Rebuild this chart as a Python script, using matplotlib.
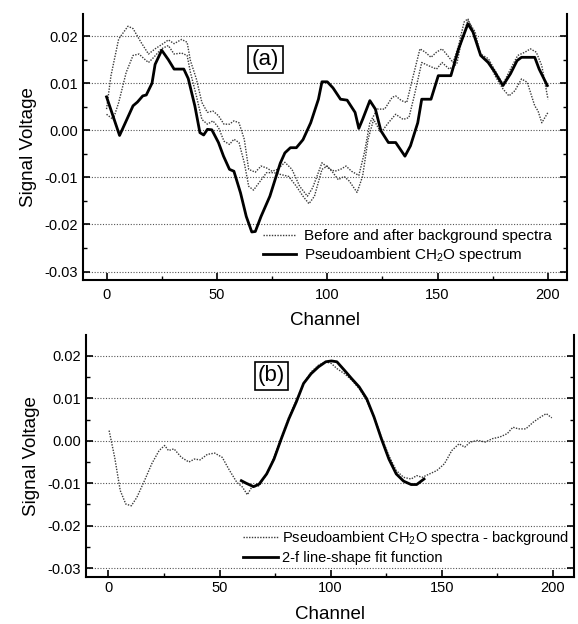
import numpy as np
import matplotlib
matplotlib.use('Agg')
import matplotlib.pyplot as plt
from matplotlib.ticker import MultipleLocator

plt.rcParams['font.family'] = ['Liberation Sans', 'DejaVu Sans']
plt.rcParams['mathtext.fontset'] = 'custom'
plt.rcParams['mathtext.rm'] = 'Liberation Sans'
plt.rcParams['mathtext.it'] = 'Liberation Sans:italic'

# ---- panel (a) data ----
a_solid_x = [0, 5.9, 12, 14, 16.4, 18, 20.6, 22, 25, 28, 30.6, 35, 37, 40, 42.3, 44, 45.7, 47.7,
             50.7, 53, 55.7, 57.7, 60.7, 63.3, 65.8, 67.4, 70, 74, 78.7, 80.8, 83.3, 86, 89, 92.5,
             96, 97.6, 100, 102.6, 106, 109, 112.6, 114.3, 116, 119.3, 121.8, 124.3, 127.7, 131,
             135.2, 137.7, 141, 142.8, 147, 150.3, 156, 159.5, 163.7, 166, 169.5, 172.9, 176,
             179.6, 183, 186, 188, 194, 196, 199.7]
a_solid_y = [0.0071, -0.0011, 0.0052, 0.006, 0.0073, 0.0075, 0.010, 0.014, 0.017, 0.015, 0.013,
             0.013, 0.011, 0.0052, -0.0005, -0.001, 0.0002, 0.0001, -0.0026, -0.0055, -0.0083,
             -0.0087, -0.0133, -0.0183, -0.0216, -0.0215, -0.0183, -0.014, -0.007, -0.0048,
             -0.0037, -0.0037, -0.002, 0.0016, 0.0066, 0.0103, 0.0103, 0.009, 0.0066, 0.0064,
             0.0038, 0.0004, 0.0023, 0.0063, 0.0045, -0.0001, -0.0026, -0.0026, -0.0055, -0.0033,
             0.0016, 0.0066, 0.0066, 0.0116, 0.0116, 0.0173, 0.0226, 0.0209, 0.0159, 0.0144,
             0.0123, 0.0095, 0.012, 0.0148, 0.0155, 0.0155, 0.013, 0.0095]

a_dot1_x = [0, 2, 5.5, 9.7, 12, 15.6, 19, 22, 25.6, 28, 30.6, 34, 36.5, 38, 40.7, 43.2, 45.7,
            48.2, 50.7, 53.2, 55.7, 57.7, 60, 62.4, 64.4, 67.4, 70, 72.5, 75, 77.5, 80.8, 84,
            87.5, 91, 93.4, 97.6, 101, 103.4, 106, 108.5, 111, 114.3, 116.8, 119.3, 122.7, 126,
            129.4, 131, 133.6, 136, 138.6, 142, 144.4, 147, 149.5, 152, 154.5, 157, 159.5, 162,
            163.7, 166, 169.5, 173, 176, 179.6, 183, 186.3, 189.6, 192, 194.7, 197.2, 200]
a_dot1_y = [0.0045, 0.0116, 0.0194, 0.0221, 0.0216, 0.0187, 0.0162, 0.0173, 0.0184, 0.0192,
            0.0184, 0.0193, 0.0187, 0.0148, 0.0109, 0.0059, 0.0038, 0.0041, 0.0031, 0.0013,
            0.0013, 0.002, 0.0016, -0.0019, -0.0083, -0.0089, -0.0076, -0.008, -0.0087, -0.0083,
            -0.0068, -0.0083, -0.0119, -0.014, -0.0122, -0.0069, -0.0082, -0.0087, -0.0083,
            -0.0076, -0.0087, -0.0096, -0.0048, 0.0016, 0.0045, 0.0045, 0.007, 0.0073, 0.0063,
            0.0059, 0.0109, 0.0173, 0.0166, 0.0155, 0.0166, 0.0173, 0.0159, 0.0144, 0.018, 0.023,
            0.0237, 0.0212, 0.0162, 0.0152, 0.0127, 0.0098, 0.013, 0.0159, 0.0166, 0.0173,
            0.0166, 0.0137, 0.0066]

a_dot2_x = [0, 3, 5.5, 8.9, 12, 14.7, 17, 19, 21.4, 24.8, 28, 30.6, 34, 36.5, 38, 40.7, 43.2,
            45.7, 48.2, 50.7, 53.2, 55.7, 57.7, 60, 62.4, 64.4, 66.6, 69, 72.5, 75.8, 79, 82.5,
            86, 89, 91.7, 94.2, 97.6, 100, 102.6, 105, 107.6, 110, 113.5, 116, 118.5, 121, 124.3,
            127.7, 131, 134.4, 137, 139.4, 142.8, 146, 149.5, 152, 155.3, 158.7, 161, 163.7, 167,
            169.5, 173, 176, 179.6, 182.3, 185, 188, 190.6, 194, 195.5, 197.2, 200]
a_dot2_y = [0.0034, 0.0023, 0.0059, 0.0123, 0.0159, 0.0162, 0.0152, 0.0144, 0.0155, 0.0173,
            0.018, 0.0162, 0.0164, 0.0159, 0.0123, 0.0073, 0.0023, 0.0013, 0.002, 0.0006,
            -0.0023, -0.003, -0.0019, -0.0026, -0.0069, -0.0119, -0.0127, -0.0112, -0.009,
            -0.009, -0.0094, -0.0098, -0.0119, -0.014, -0.0156, -0.014, -0.0083, -0.0076,
            -0.009, -0.0105, -0.0098, -0.0108, -0.0132, -0.0098, -0.0019, 0.0023, -0.0005,
            0.0016, 0.0034, 0.0023, 0.0027, 0.0073, 0.0144, 0.0137, 0.013, 0.0144, 0.013, 0.0141,
            0.0194, 0.0233, 0.0209, 0.0159, 0.0148, 0.0116, 0.0088, 0.0073, 0.0084, 0.0109,
            0.0102, 0.0052, 0.0041, 0.0016, 0.0038]

# ---- panel (b) data ----
b_dot_x = [0.3, 2.8, 5.3, 7.8, 10.3, 12.8, 16.2, 19.5, 22.8, 25.3, 27, 29.5, 32.8, 36.2, 38.7,
           41.2, 44.5, 47.8, 51.2, 54.5, 57.8, 60.3, 62.5, 64.5, 67.8, 71.2, 74.5, 77.8, 81.2,
           84.5, 87.8, 91.2, 94.5, 97.8, 100.3, 102.8, 106.2, 109.5, 112.8, 116.2, 119.5, 122.8,
           126.2, 129.5, 132.8, 136.2, 138.7, 141.2, 144.5, 147.8, 151.2, 154.5, 157.8, 160.3,
           162.8, 166.2, 169.5, 172.8, 176.2, 179.5, 182, 184.5, 187.8, 191.2, 194.5, 197, 199.5]
b_dot_y = [0.0024, -0.0039, -0.0117, -0.0149, -0.0153, -0.0133, -0.0094, -0.0054, -0.0023,
           -0.0011, -0.0023, -0.0019, -0.0039, -0.005, -0.0043, -0.0045, -0.0032, -0.0029,
           -0.0039, -0.007, -0.0098, -0.0109, -0.0127, -0.0109, -0.0106, -0.0078, -0.0039,
           0.0009, 0.0056, 0.0095, 0.0135, 0.0162, 0.0178, 0.0186, 0.0182, 0.017, 0.0158,
           0.0143, 0.0123, 0.0095, 0.0056, 0.0009, -0.0035, -0.007, -0.0086, -0.009, -0.0082,
           -0.0086, -0.0078, -0.007, -0.0054, -0.0023, -0.0007, -0.0015, -0.0003, 0.0001,
           -0.0003, 0.0005, 0.0009, 0.0017, 0.0032, 0.0028, 0.0028, 0.0044, 0.0056, 0.0064, 0.0054]

b_fit_x = [59.8, 62, 65.3, 67.8, 71.2, 74.5, 77.8, 81.2, 84.5, 87.8, 91.2, 94.5, 97.8, 100.3,
           102.8, 106.2, 109.5, 112.8, 116.2, 119.5, 122.8, 126.2, 129.5, 132.8, 136.2, 138.7,
           142]
b_fit_y = [-0.0094, -0.01, -0.0108, -0.0102, -0.0078, -0.0043, 0.0005, 0.0052, 0.0091, 0.0135,
           0.0158, 0.0174, 0.0186, 0.0188, 0.0186, 0.0166, 0.0146, 0.0127, 0.0099, 0.0056,
           0.0005, -0.0043, -0.0078, -0.0095, -0.0103, -0.0103, -0.009]

yticks = [0.02, 0.01, 0.00, -0.01, -0.02, -0.03]
ytick_labels = ['0.02', '0.01', '0.00', '-0.01', '-0.02', '-0.03']
xticks = [0, 50, 100, 150, 200]

dot_style = dict(color='#3a3a3a', lw=1.0, linestyle=(0, (1, 1)))


def style_axes(ax, ylim, xlim, xpad, xlabelpad):
    ax.set_xlim(*xlim)
    ax.set_ylim(*ylim)
    ax.set_yticks(yticks)
    ax.set_yticklabels(ytick_labels)
    ax.set_xticks(xticks)
    ax.xaxis.set_minor_locator(MultipleLocator(25))
    ax.yaxis.set_minor_locator(MultipleLocator(0.005))
    ax.spines['top'].set_visible(False)
    for s in ['left', 'bottom', 'right']:
        ax.spines[s].set_linewidth(1.5)
    ax.tick_params(which='both', direction='in', right=True, top=False, labelsize=10.5)
    ax.tick_params(which='major', length=5, width=1.2)
    ax.tick_params(which='minor', length=3, width=1.0)
    ax.tick_params(axis='x', pad=xpad)
    for yv in yticks:
        ax.axhline(yv, color='#555555', lw=0.8, linestyle=(0, (1, 1.5)), zorder=0)
    ax.set_xlabel('Channel', fontsize=13.5, labelpad=xlabelpad)
    ax.set_ylabel('Signal Voltage', fontsize=13.5, labelpad=5.5)


fig = plt.figure(figsize=(5.78, 6.24), dpi=100)

ax1 = fig.add_axes([0.1431, 0.5513, 0.8378, 0.4270])
ax1.plot(a_dot1_x, a_dot1_y, label='Before and after background spectra', **dot_style)
ax1.plot(a_dot2_x, a_dot2_y, **dot_style)
ax1.plot(a_solid_x, a_solid_y, color='black', lw=2.0, label='Pseudoambient CH$_2$O spectrum')
style_axes(ax1, (-0.0318, 0.0248), (-10.8, 208.6), 6, 7.3)
ax1.text(265.5 / 578, 1 - 59.5 / 624, '(a)', transform=fig.transFigure, fontsize=16,
         ha='center', va='center',
         bbox=dict(boxstyle='square,pad=0.15', fc='white', ec='black', lw=1.2))
ax1.legend(loc='upper left', bbox_to_anchor=(0.372, 0.19), frameon=False, fontsize=11,
           handlelength=2.2, handletextpad=0.5, labelspacing=0.2, borderpad=0,
           borderaxespad=0)

ax2 = fig.add_axes([0.1488, 0.0758, 0.8443, 0.3873])
ax2.plot(b_dot_x, b_dot_y, label='Pseudoambient CH$_2$O spectra - background', **dot_style)
ax2.plot(b_fit_x, b_fit_y, color='black', lw=2.0, label='2-f line-shape fit function')
style_axes(ax2, (-0.032, 0.0249), (-10.1, 209.5), 3, 8.0)
ax2.text(271.5 / 578, 1 - 376 / 624, '(b)', transform=fig.transFigure, fontsize=16,
         ha='center', va='center',
         bbox=dict(boxstyle='square,pad=0.15', fc='white', ec='black', lw=1.2))
ax2.legend(loc='upper left', bbox_to_anchor=(0.322, 0.197), frameon=False, fontsize=10.5,
           handlelength=2.4, handletextpad=0.25, labelspacing=0.25, borderpad=0,
           borderaxespad=0)

plt.savefig('out.png', dpi=100)
